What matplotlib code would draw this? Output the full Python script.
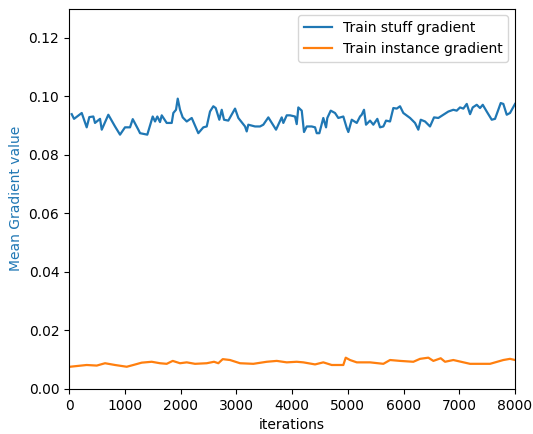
import matplotlib
matplotlib.use("Agg")
import matplotlib.pyplot as plt
import numpy as np

px_stuff = [71.7,74,81.7,86.7,89.3,93.3,95,100,101.7,108.3,115,120,125,130,132.7,138.3,140,147.3,149.3,152.7,155,157.3,160,161.7,166.7,171.7,173.3,176,177.7,180,182.7,186.7,191.7,198.3,203.3,206.7,210,213.3,215.7,219.3,221.7,224,228.3,235,238.3,245,246.7,248.3,255,260,263.3,268.3,276,281.7,283.3,286.7,290,295,296.7,298.3,301.7,304,306.7,311.7,315,316.7,319.3,323.3,326,327.3,330.7,335,338.3,343.3,346.7,348.3,351.7,356.7,360,361.7,364,366,370,373.3,377.3,380,383.3,386,390,393.3,396.7,400,403.3,410,415,418.3,420.7,425,430,434,438.3,443.3,448.3,453.3,456.7,460,463.3,466.7,470,472.7,476.7,480,482.7,486.7,491.7,495,498.3,500.7,503.3,506.7,510,515]
stuff_values = [0.0939,0.0923,0.0943,0.0894,0.0929,0.0931,0.0909,0.0923,0.0886,0.0937,0.0897,0.0869,0.0894,0.0894,0.0922,0.0886,0.0874,0.0869,0.0892,0.0931,0.0914,0.0931,0.0912,0.0935,0.0909,0.0909,0.0943,0.0954,0.0992,0.0954,0.0928,0.0914,0.0926,0.0874,0.0894,0.0897,0.0948,0.0966,0.0960,0.0920,0.0954,0.0920,0.0917,0.0958,0.0926,0.0897,0.0880,0.0903,0.0897,0.0897,0.0903,0.0928,0.0886,0.0928,0.0909,0.0935,0.0935,0.0931,0.0905,0.0962,0.0951,0.0878,0.0897,0.0897,0.0894,0.0874,0.0874,0.0926,0.0894,0.0926,0.0951,0.0943,0.0926,0.0931,0.0892,0.0878,0.0920,0.0909,0.0931,0.0937,0.0954,0.0903,0.0917,0.0903,0.0923,0.0894,0.0897,0.0917,0.0914,0.0960,0.0958,0.0966,0.0943,0.0926,0.0909,0.0886,0.0920,0.0914,0.0897,0.0928,0.0926,0.0937,0.0948,0.0954,0.0951,0.0962,0.0958,0.0974,0.0939,0.0962,0.0971,0.0960,0.0971,0.0948,0.0920,0.0923,0.0954,0.0977,0.0974,0.0937,0.0943,0.0974]
stuff_iters = [round((p - 69) / 446 * 8000) for p in px_stuff]

px_inst = [70,86.7,96.7,105,115,126.7,133.3,141.7,151.7,160,166.7,172.7,180,186.7,195,206.7,214,218.3,222.7,230,240,253.3,266.7,276.7,286.7,296.7,303.3,315,323.3,331.7,343.3,345.7,350,356.7,370,383.3,390,400,413.3,420,428.3,433.3,440.7,445,453.3,470,490,503.3,510,515]
inst_values = [0.0076,0.0082,0.0080,0.0088,0.0082,0.0076,0.0082,0.0090,0.0093,0.0088,0.0086,0.0096,0.0088,0.0091,0.0086,0.0088,0.0093,0.0088,0.0102,0.0099,0.0088,0.0086,0.0093,0.0096,0.0091,0.0093,0.0091,0.0084,0.0091,0.0082,0.0082,0.0107,0.0099,0.0091,0.0091,0.0086,0.0099,0.0096,0.0093,0.0103,0.0107,0.0096,0.0105,0.0093,0.0099,0.0086,0.0086,0.0099,0.0103,0.0099]
inst_iters = [round((p - 69) / 446 * 8000) for p in px_inst]

fig = plt.figure(figsize=(5.33, 4.34), dpi=100)
ax = fig.add_axes([0.1295, 0.1037, 0.8368, 0.8767])
ax.plot(stuff_iters, stuff_values, color='tab:blue', lw=1.6, label='Train stuff gradient')
ax.plot(inst_iters, inst_values, color='tab:orange', lw=1.6, label='Train instance gradient')
ax.set_xlim(0, 8000)
ax.set_ylim(0, 0.13)
ax.set_yticks([0, 0.02, 0.04, 0.06, 0.08, 0.10, 0.12])
ax.set_xlabel('iterations')
ax.set_ylabel('Mean Gradient value', color='tab:blue')
ax.legend(loc='upper right')
fig.savefig('out.png', dpi=100)
